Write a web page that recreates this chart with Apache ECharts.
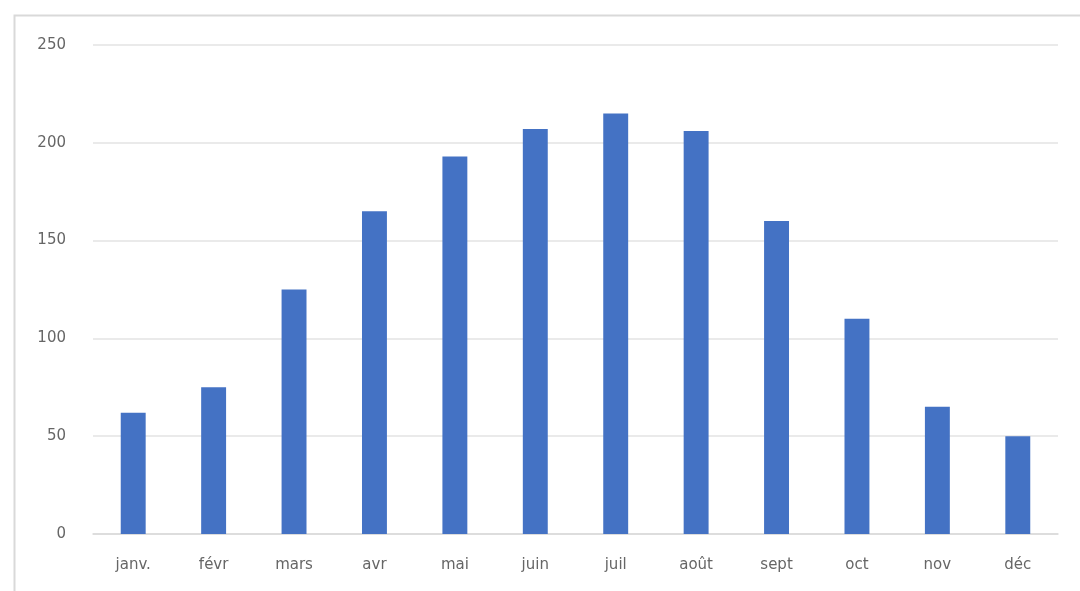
<!DOCTYPE html>
<html>
<head>
<meta charset="utf-8">
<script src="https://cdn.jsdelivr.net/npm/echarts@6/dist/echarts.min.js"></script>
<style>
html,body{margin:0;padding:0;background:#fff;}
#chart{width:1080px;height:591px;}
</style>
</head>
<body>
<div id="chart"></div>
<script>
const categories = ['janv.', 'févr', 'mars', 'avr', 'mai', 'juin', 'juil', 'août', 'sept', 'oct', 'nov', 'déc'];
const values = [62, 75, 125, 165, 193, 207, 215, 206, 160, 110, 65, 50];
const yTicks = { min: 0, max: 250, interval: 50 };

const chart = echarts.init(document.getElementById('chart'));
chart.setOption({
  animation: false,
  backgroundColor: '#ffffff',
  graphic: [{
    type: 'rect',
    left: 12, top: 13,
    shape: { width: 1100, height: 620 },
    style: { fill: 'none', stroke: '#d9d9d9', lineWidth: 2 },
    silent: true
  }],
  grid: { left: 93, right: 22, top: 45, bottom: 57, containLabel: false },
  xAxis: {
    type: 'category',
    data: categories,
    axisTick: { show: false },
    axisLine: { lineStyle: { color: '#d9d9d9', width: 1.5 } },
    axisLabel: { color: '#666666', fontSize: 15, fontFamily: 'DejaVu Sans', margin: 24 }
  },
  yAxis: {
    type: 'value',
    min: yTicks.min, max: yTicks.max, interval: yTicks.interval,
    axisLine: { show: false },
    axisTick: { show: false },
    splitLine: { lineStyle: { color: '#e3e3e3', width: 1.5 } },
    axisLabel: { color: '#666666', fontSize: 15, fontFamily: 'DejaVu Sans', margin: 27 }
  },
  series: [{
    type: 'bar',
    data: values,
    barWidth: '31%',
    itemStyle: { color: '#4472C4' }
  }]
});
</script>
</body>
</html>
